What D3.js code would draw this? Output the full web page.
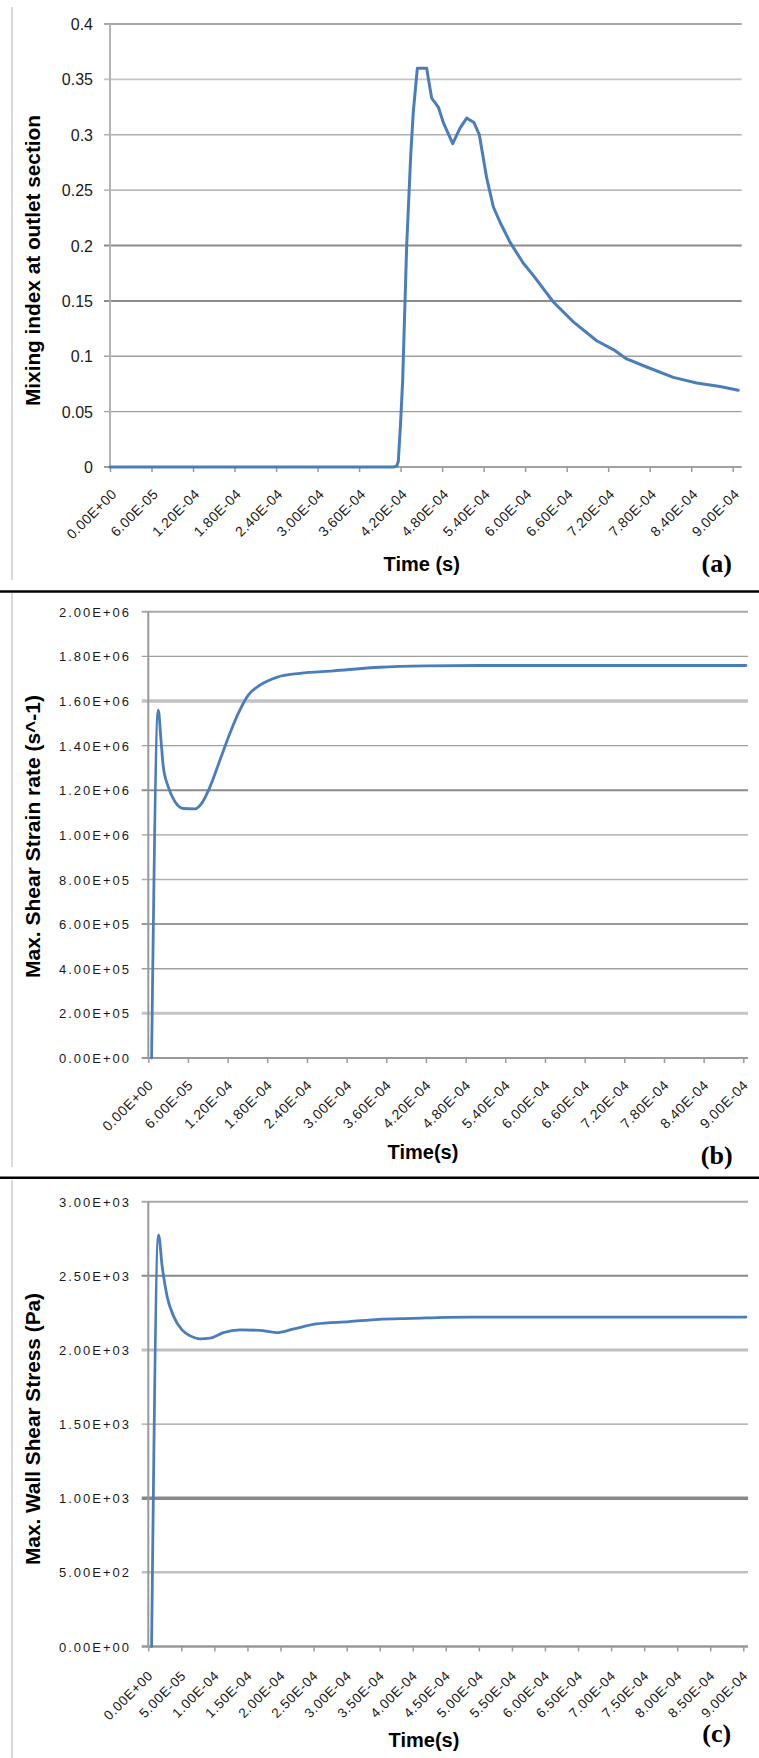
<!DOCTYPE html>
<html>
<head>
<meta charset="utf-8">
<script src="https://cdn.jsdelivr.net/npm/d3@7"></script>
<style>
  body { margin: 0; background: #fff; }
  svg { display: block; }
  text { font-family: "Liberation Sans", Arial, sans-serif; }
</style>
</head>
<body>
<div id="chart"></div>
<script>
// ---------------- DATA ----------------
// Panel (a): mixing index at outlet section vs time
const aTime = [0, 4.10e-4, 4.144e-4, 4.167e-4, 4.20e-4, 4.23e-4, 4.288e-4, 4.346e-4, 4.384e-4, 4.442e-4,
  4.577e-4, 4.649e-4, 4.745e-4, 4.818e-4, 4.953e-4, 5.059e-4, 5.155e-4, 5.261e-4, 5.338e-4, 5.444e-4,
  5.54e-4, 5.637e-4, 5.781e-4, 5.974e-4, 6.118e-4, 6.408e-4, 6.697e-4, 7.034e-4, 7.275e-4, 7.468e-4,
  7.757e-4, 8.142e-4, 8.48e-4, 8.816e-4, 9.081e-4];
const aMixing = [0, 0, 0.001, 0.005, 0.04, 0.078, 0.20, 0.281, 0.321, 0.360,
  0.360, 0.333, 0.325, 0.311, 0.292, 0.306, 0.315, 0.311, 0.300, 0.261,
  0.235, 0.221, 0.203, 0.184, 0.173, 0.149, 0.131, 0.114, 0.106, 0.0976,
  0.0903, 0.0809, 0.0759, 0.0726, 0.0693];

// Panel (b): max shear strain rate vs time
const bTime = [5e-6, 1.51e-5, 1.92e-5, 2.27e-5, 3.02e-5, 4.04e-5, 5.29e-5, 7.06e-5, 8.07e-5, 9.33e-5,
  1.084e-4, 1.235e-4, 1.361e-4, 1.512e-4, 1.689e-4, 1.942e-4, 2.294e-4, 2.797e-4, 3.504e-4, 4.2e-4,
  5.0e-4, 6.0e-4, 7.0e-4, 8.0e-4, 9.04e-4];
const bStrain = [0, 1.559e6, 1.425e6, 1.305e6, 1.215e6, 1.148e6, 1.118e6, 1.116e6, 1.141e6, 1.215e6,
  1.335e6, 1.455e6, 1.544e6, 1.626e6, 1.671e6, 1.706e6, 1.724e6, 1.735e6, 1.751e6, 1.757e6,
  1.759e6, 1.759e6, 1.759e6, 1.759e6, 1.759e6];

// Panel (c): max wall shear stress vs time
const cTime = [5e-6, 1.55e-5, 2.1e-5, 2.85e-5, 3.85e-5, 5.1e-5, 6.35e-5, 7.85e-5, 9.35e-5, 1.135e-4,
  1.386e-4, 1.686e-4, 1.937e-4, 2.187e-4, 2.538e-4, 3.038e-4, 3.489e-4, 4.0e-4, 4.5e-4, 5.0e-4,
  6.0e-4, 7.0e-4, 8.0e-4, 9.04e-4];
const cStress = [0, 2776, 2562, 2360, 2225, 2135, 2095, 2075, 2080, 2117,
  2135, 2132, 2117, 2140, 2176, 2191, 2207, 2213, 2220, 2222,
  2222, 2222, 2222, 2222];

// Tick values and labels
const abXTicks = [0, 6e-5, 1.2e-4, 1.8e-4, 2.4e-4, 3.0e-4, 3.6e-4, 4.2e-4, 4.8e-4, 5.4e-4, 6.0e-4, 6.6e-4, 7.2e-4, 7.8e-4, 8.4e-4, 9.0e-4];
const abXLabels = ["0.00E+00", "6.00E-05", "1.20E-04", "1.80E-04", "2.40E-04", "3.00E-04", "3.60E-04", "4.20E-04",
  "4.80E-04", "5.40E-04", "6.00E-04", "6.60E-04", "7.20E-04", "7.80E-04", "8.40E-04", "9.00E-04"];
const cXTicks = [0, 5e-5, 1e-4, 1.5e-4, 2e-4, 2.5e-4, 3e-4, 3.5e-4, 4e-4, 4.5e-4, 5e-4, 5.5e-4, 6e-4, 6.5e-4, 7e-4, 7.5e-4, 8e-4, 8.5e-4, 9e-4];
const cXLabels = ["0.00E+00", "5.00E-05", "1.00E-04", "1.50E-04", "2.00E-04", "2.50E-04", "3.00E-04", "3.50E-04",
  "4.00E-04", "4.50E-04", "5.00E-04", "5.50E-04", "6.00E-04", "6.50E-04", "7.00E-04", "7.50E-04", "8.00E-04", "8.50E-04", "9.00E-04"];
const aYTicks = [0, 0.05, 0.1, 0.15, 0.2, 0.25, 0.3, 0.35, 0.4];
const aYLabels = ["0", "0.05", "0.1", "0.15", "0.2", "0.25", "0.3", "0.35", "0.4"];
const bYTicks = [0, 2e5, 4e5, 6e5, 8e5, 1e6, 1.2e6, 1.4e6, 1.6e6, 1.8e6, 2e6];
const bYLabels = ["0.00E+00", "2.00E+05", "4.00E+05", "6.00E+05", "8.00E+05", "1.00E+06", "1.20E+06", "1.40E+06", "1.60E+06", "1.80E+06", "2.00E+06"];
const cYTicks = [0, 500, 1000, 1500, 2000, 2500, 3000];
const cYLabels = ["0.00E+00", "5.00E+02", "1.00E+03", "1.50E+03", "2.00E+03", "2.50E+03", "3.00E+03"];

// ---------------- LAYOUT / STYLE ----------------
const W = 759, H = 1758;
const lineColor = "#4a7ebb";

const panels = [
  {
    time: aTime, values: aMixing, xTicks: abXTicks, xLabels: abXLabels,
    yTicks: aYTicks, yLabels: aYLabels, yMax: 0.4,
    x0: 110, x9: 732.7, gridEnd: 741.7, yTop: 24, yBottom: 467, yTickLen: 6,
    yLabelX: 93, yLabelSize: 16, yLabelSpacing: 0, yAxisColor: "#b4b4b4",
    xLabelSize: 14, xLabelSpacing: 0.4, xLblDx: 7, xLblDy: 28,
    curve: d3.curveLinear, lineWidth: 3,
    grid: { "0.4": ["#a8a8a8", 2], "0.35": ["#c4c4c4", 1.6], "0.3": ["#b0b0b0", 1.3], "0.2": ["#8c8c8c", 2], "0.15": ["#8c8c8c", 2], "0": ["#a0a0a0", 2] },
    title: "Mixing index at outlet section", titleX: 39.5, titleY: 260.5, titleLen: 291,
    timeLabel: "Time (s)", timeX: 421.7, timeY: 571,
    tag: "(a)", tagX: 716.7, tagY: 572,
    border: [7, 580]
  },
  {
    time: bTime, values: bStrain, xTicks: abXTicks, xLabels: abXLabels,
    yTicks: bYTicks, yLabels: bYLabels, yMax: 2e6,
    x0: 148.3, x9: 743.3, gridEnd: 748, yTop: 611.7, yBottom: 1058, yTickLen: 6.6,
    yLabelX: 131, yLabelSize: 13, yLabelSpacing: 2, yAxisColor: "#999",
    xLabelSize: 14, xLabelSpacing: 0.6, xLblDx: 5.5, xLblDy: 28,
    curve: d3.curveMonotoneX, lineWidth: 2.8,
    grid: { "2000000": ["#a8a8a8", 2], "1600000": ["#c2c2c2", 3.5], "1200000": ["#8c8c8c", 2], "800000": ["#b0b0b0", 1.5], "600000": ["#999", 2], "200000": ["#c4c4c4", 3], "0": ["#999", 2] },
    title: "Max. Shear Strain rate (s^-1)", titleX: 39.5, titleY: 836.5, titleLen: 283,
    timeLabel: "Time(s)", timeX: 423, timeY: 1158.5,
    tag: "(b)", tagX: 716.7, tagY: 1164,
    border: [593, 1167]
  },
  {
    time: cTime, values: cStress, xTicks: cXTicks, xLabels: cXLabels,
    yTicks: cYTicks, yLabels: cYLabels, yMax: 3000,
    x0: 148.3, x9: 743.3, gridEnd: 748, yTop: 1201.7, yBottom: 1646.5, yTickLen: 6.6,
    yLabelX: 131, yLabelSize: 13, yLabelSpacing: 2, yAxisColor: "#999",
    xLabelSize: 13.5, xLabelSpacing: 0.6, xLblDx: 5, xLblDy: 30,
    curve: d3.curveMonotoneX, lineWidth: 2.8,
    grid: { "3000": ["#aaa", 2], "2500": ["#888", 2], "2000": ["#c0c0c0", 3], "1000": ["#888", 3.5], "500": ["#c0c0c0", 2.5], "0": ["#999", 2.5] },
    title: "Max. Wall Shear Stress (Pa)", titleX: 39.5, titleY: 1429, titleLen: 272,
    timeLabel: "Time(s)", timeX: 424, timeY: 1747,
    tag: "(c)", tagX: 716.7, tagY: 1742,
    border: [1180, 1758]
  }
];

// ---------------- DRAW ----------------
const svg = d3.select("#chart").append("svg").attr("width", W).attr("height", H);
svg.append("rect").attr("width", W).attr("height", H).attr("fill", "#fff");

panels.forEach(p => {
  const g = svg.append("g");
  const x = d3.scaleLinear().domain([0, 9e-4]).range([p.x0, p.x9]);
  const y = d3.scaleLinear().domain([0, p.yMax]).range([p.yBottom, p.yTop]);

  // left chart-area border
  g.append("line").attr("x1", 12).attr("x2", 12).attr("y1", p.border[0]).attr("y2", p.border[1])
    .attr("stroke", "#dadada").attr("stroke-width", 2);

  // horizontal gridlines (incl. y tick marks to the left of axis)
  g.selectAll("line.grid").data(p.yTicks).join("line").attr("class", "grid")
    .attr("x1", p.x0 - p.yTickLen).attr("x2", p.gridEnd)
    .attr("y1", d => y(d)).attr("y2", d => y(d))
    .attr("stroke", d => (p.grid[String(d)] || ["#a0a0a0", 1.4])[0])
    .attr("stroke-width", d => (p.grid[String(d)] || ["#a0a0a0", 1.4])[1]);

  // y axis line
  g.append("line").attr("x1", p.x0).attr("x2", p.x0).attr("y1", p.yTop).attr("y2", p.yBottom + 1)
    .attr("stroke", p.yAxisColor).attr("stroke-width", 2);

  // y axis labels
  const yAxis = d3.axisLeft(y).tickValues(p.yTicks).tickSize(0).tickFormat((d, i) => p.yLabels[i]);
  const ya = g.append("g").attr("transform", `translate(${p.yLabelX},0)`).call(yAxis);
  ya.select(".domain").remove();
  ya.selectAll("text").attr("x", 0).attr("dy", "0.35em")
    .style("font-size", p.yLabelSize + "px").style("letter-spacing", p.yLabelSpacing + "px")
    .attr("fill", "#1a1a1a").attr("font-family", null);

  // x axis ticks + rotated labels
  const xAxis = d3.axisBottom(x).tickValues(p.xTicks).tickSize(5).tickSizeOuter(0)
    .tickFormat((d, i) => p.xLabels[i]);
  const xa = g.append("g").attr("transform", `translate(0,${p.yBottom})`).call(xAxis);
  xa.select(".domain").remove();
  xa.selectAll(".tick line").attr("stroke", "#9a9a9a").attr("stroke-width", 1.5);
  xa.selectAll("text")
    .attr("x", 0).attr("y", 0).attr("dy", null)
    .attr("text-anchor", "end")
    .attr("transform", `translate(${p.xLblDx},${p.xLblDy}) rotate(-45)`)
    .style("font-size", p.xLabelSize + "px").style("letter-spacing", p.xLabelSpacing + "px")
    .attr("fill", "#1a1a1a").attr("font-family", null);

  // data line
  const pts = p.time.map((t, i) => [t, p.values[i]]);
  g.append("path").datum(pts)
    .attr("fill", "none").attr("stroke", lineColor).attr("stroke-width", p.lineWidth)
    .attr("stroke-linejoin", "round").attr("stroke-linecap", "round")
    .attr("d", d3.line().x(d => x(d[0])).y(d => y(d[1])).curve(p.curve));

  // y axis title
  g.append("text")
    .attr("transform", `translate(${p.titleX},${p.titleY}) rotate(-90)`)
    .attr("text-anchor", "middle")
    .attr("textLength", p.titleLen).attr("lengthAdjust", "spacingAndGlyphs")
    .style("font-size", "20px").style("font-weight", "bold").attr("fill", "#000")
    .text(p.title);

  // x axis title
  g.append("text").attr("x", p.timeX).attr("y", p.timeY).attr("text-anchor", "middle")
    .style("font-size", "20px").style("font-weight", "bold").attr("fill", "#000")
    .text(p.timeLabel);

  // panel tag
  g.append("text").attr("x", p.tagX).attr("y", p.tagY).attr("text-anchor", "middle")
    .style("font-family", "'Liberation Serif','Times New Roman',serif")
    .style("font-size", "26px").style("font-weight", "bold").attr("fill", "#000")
    .text(p.tag);
});

// black separators between panels
const seps = [591.5, 1177.7];
svg.selectAll("line.sep").data(seps).join("line").attr("class", "sep")
  .attr("x1", 0).attr("x2", W).attr("y1", d => d).attr("y2", d => d)
  .attr("stroke", "#000").attr("stroke-width", 2.5);
</script>
</body>
</html>
